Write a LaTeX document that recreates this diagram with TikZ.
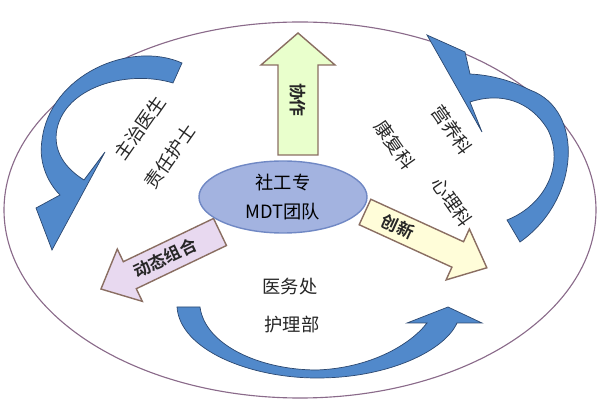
\documentclass[tikz,border=0pt]{standalone}
\usepackage{fontspec}
\setmainfont{Noto Sans CJK SC}
\newfontfamily\cjkbold{Noto Sans CJK SC Bold}
\usetikzlibrary{positioning,calc}
\definecolor{curvblue}{HTML}{5189CB}
\definecolor{curvedge}{HTML}{2C4870}
\definecolor{teamfill}{HTML}{A3B3E0}
\definecolor{teamedge}{HTML}{7088C4}
\definecolor{ringedge}{HTML}{8A6A8A}
\definecolor{arredge}{HTML}{8A6E62}

\tikzset{
  curvarrow/.style={fill=curvblue,draw=curvedge,line width=0.5pt},
  blockarr/.style={draw=arredge,line width=1pt},
  dept/.style={font=\fontsize{13}{15}\selectfont,text=black!85},
  arrlabel/.style={font=\cjkbold\fontsize{12}{14}\selectfont,text=black!85}
}
% start, angle, length, half body width, half head width, style
\newcommand{\blockarrow}[6]{%
  \begin{scope}[shift={#1},rotate=#2]
    \draw[blockarr,#6] (0,-#4) -- (#3-32,-#4) -- (#3-32,-#5) -- (#3,0)
      -- (#3-32,#5) -- (#3-32,#4) -- (0,#4) -- cycle;
  \end{scope}}

\begin{document}
\begin{tikzpicture}[x=0.025cm,y=-0.025cm]
  \useasboundingbox (0,0) rectangle (600,400);
  \draw[ringedge,line width=0.8pt] (300,210) ellipse (296 and 188);

  % curved arrows
  \draw[curvarrow] (182,63) .. controls (130,40) and (50,75) .. (42,140)
    .. controls (38,165) and (50,185) .. (60,195) -- (36,208) -- (52,250)
    -- (105,152) -- (84,180) .. controls (60,165) and (52,145) .. (58,125)
    .. controls (70,85) and (130,70) .. (173,83) -- cycle;
  \draw[curvarrow] (520,242) .. controls (580,200) and (585,110) .. (530,90)
    .. controls (510,80) and (490,75) .. (470,74) -- (465,52) -- (427,35)
    -- (482,132) -- (470,102) .. controls (500,92) and (530,100) .. (548,130)
    .. controls (565,165) and (545,205) .. (507,220) -- cycle;
  \draw[curvarrow] (177,307) .. controls (180,350) and (250,378) .. (317,378)
    .. controls (390,378) and (445,350) .. (457,323) -- (482,323) -- (448,307)
    -- (407,323) -- (427,323) .. controls (410,345) and (370,368) .. (317,370)
    .. controls (260,370) and (205,345) .. (200,307) -- cycle;

  % block arrows
  \blockarrow{(298,155)}{90}{122}{20}{37}{fill=green!25!lime!20}
  \blockarrow{(365,212)}{-24.6}{134}{14}{28}{fill=yellow!15}
  \blockarrow{(220,232)}{205.6}{132}{15}{29}{fill=blue!20!violet!15}

  \coordinate (team) at (283,197);
  \fill[teamfill] (team) ellipse (84 and 36);
  \draw[teamedge,line width=1pt] (team) ellipse (84 and 36);
  \node[font=\fontsize{13}{15}\selectfont] (teamtop) at (283,183) {社工专};
  \node[font=\fontsize{13}{15}\selectfont] (teambot) at (283,212) {MDT团队};

  \node[arrlabel,rotate=-90] (cooperate) at (298,100) {协作};
  \node[arrlabel,rotate=-24.6] (innovate) at (398,227) {创新};
  \node[arrlabel,rotate=25.6] (dynamic) at (165,258) {动态组合};

  \node[dept,rotate=55,inner sep=1pt] (doctor) at (140,128) {主治医生};
  \node[dept,rotate=55,inner sep=1pt] (nurse) at (170,157) {责任护士};
  \node[dept,rotate=-55,inner sep=1pt] (nutri) at (452,130) {营养科};
  \node[dept,rotate=-55,inner sep=1pt] (rehab) at (395,145) {康复科};
  \node[dept,rotate=-55,inner sep=1pt] (psych) at (452,202) {心理科};
  \node[dept] (medical) at (290,287) {医务处};
  \node[dept] (nursing) at (292,325) {护理部};
\end{tikzpicture}
\end{document}
